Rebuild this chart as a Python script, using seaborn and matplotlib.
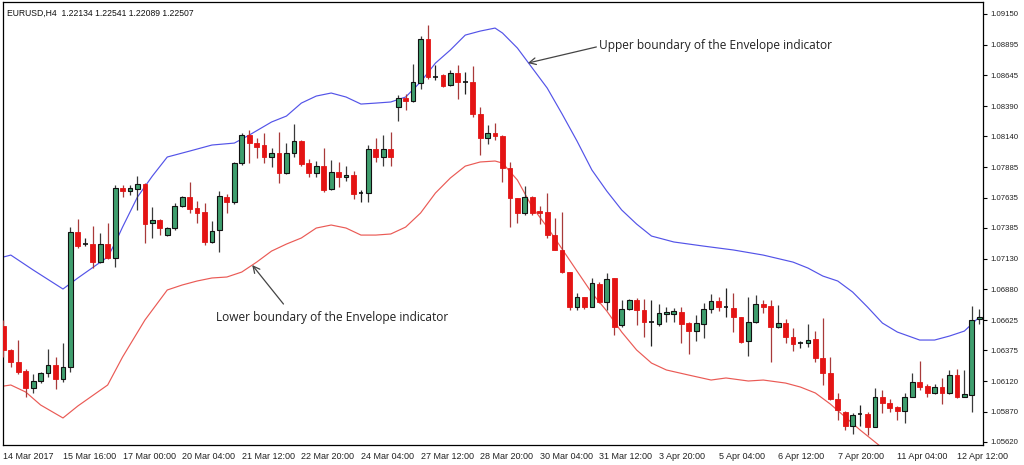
import numpy as np
import pandas as pd
import matplotlib
matplotlib.use("Agg")
import matplotlib.pyplot as plt
import seaborn as sns

# ---------------- data ----------------
opens = [1.06576, 1.06378, 1.06279, 1.06204, 1.06064, 1.06122, 1.06188, 1.06254, 1.06138, 1.06237,
         1.07351, 1.07252, 1.07252, 1.07103, 1.07252, 1.07136, 1.07714, 1.07689, 1.07706, 1.07747,
         1.07425, 1.07450, 1.07326, 1.07384, 1.07566, 1.07640, 1.07549, 1.07516, 1.07269, 1.07368,
         1.07640, 1.07599, 1.07920, 1.08151, 1.08085, 1.08069, 1.07970, 1.08003, 1.07838, 1.08003,
         1.08102, 1.07920, 1.07838, 1.07895, 1.07706, 1.07846, 1.07805, 1.07821, 1.07673, 1.07673,
         1.08036, 1.07970, 1.08036, 1.08382, 1.08457, 1.08432, 1.08580, 1.08943, 1.08630, 1.08646,
         1.08564, 1.08663, 1.08589, 1.08589, 1.08325, 1.08127, 1.08168, 1.08143, 1.07879, 1.07632,
         1.07508, 1.07640, 1.07524, 1.07516, 1.07326, 1.07203, 1.07021, 1.06732, 1.06815, 1.06732,
         1.06922, 1.06774, 1.06972, 1.06584, 1.06716, 1.06790, 1.06708, 1.06609, 1.06592, 1.06675,
         1.06675, 1.06691, 1.06600, 1.06534, 1.06592, 1.06716, 1.06782, 1.06732, 1.06724, 1.06650,
         1.06452, 1.06609, 1.06757, 1.06741, 1.06567, 1.06600, 1.06485, 1.06435, 1.06435, 1.06468,
         1.06312, 1.06188, 1.05973, 1.05866, 1.05750, 1.05850, 1.05850, 1.05742, 1.05990, 1.05940,
         1.05907, 1.05874, 1.05990, 1.06114, 1.06080, 1.06023, 1.06072, 1.06023, 1.06171, 1.05990,
         1.06006, 1.06633]
highs = [1.06625, 1.06386, 1.06460, 1.06221, 1.06180, 1.06196, 1.06386, 1.06320, 1.06435, 1.07392,
         1.07458, 1.07302, 1.07400, 1.07343, 1.07425, 1.07739, 1.07739, 1.07739, 1.07813, 1.07755,
         1.07557, 1.07458, 1.07392, 1.07590, 1.07648, 1.07764, 1.07607, 1.07590, 1.07442, 1.07689,
         1.07665, 1.07929, 1.08168, 1.08193, 1.08127, 1.08168, 1.08044, 1.08176, 1.08085, 1.08242,
         1.08110, 1.07953, 1.07937, 1.08044, 1.07945, 1.07929, 1.07895, 1.07854, 1.07698, 1.08069,
         1.08127, 1.08151, 1.08176, 1.08481, 1.08490, 1.08737, 1.08968, 1.09059, 1.08729, 1.08655,
         1.08688, 1.08729, 1.08671, 1.08720, 1.08382, 1.08234, 1.08250, 1.08151, 1.07929, 1.07632,
         1.07731, 1.07648, 1.07566, 1.07673, 1.07467, 1.07516, 1.07021, 1.06848, 1.06815, 1.06972,
         1.06939, 1.07013, 1.06972, 1.06790, 1.06798, 1.06807, 1.06798, 1.06790, 1.06757, 1.06732,
         1.06724, 1.06732, 1.06609, 1.06666, 1.06765, 1.06840, 1.06815, 1.06889, 1.06848, 1.06650,
         1.06815, 1.06831, 1.06790, 1.06790, 1.06749, 1.06633, 1.06559, 1.06452, 1.06592, 1.06534,
         1.06642, 1.06320, 1.06023, 1.05874, 1.05858, 1.05924, 1.05866, 1.06064, 1.06048, 1.05973,
         1.05916, 1.06023, 1.06188, 1.06287, 1.06097, 1.06097, 1.06147, 1.06213, 1.06221, 1.06213,
         1.06741, 1.06716]
lows = [1.06320, 1.06237, 1.06180, 1.05990, 1.06023, 1.06105, 1.06155, 1.06056, 1.06114, 1.06196,
        1.07219, 1.07235, 1.07054, 1.07095, 1.07128, 1.07062, 1.07640, 1.07656, 1.07533, 1.07260,
        1.07302, 1.07326, 1.07318, 1.07368, 1.07557, 1.07508, 1.07425, 1.07244, 1.07260, 1.07186,
        1.07508, 1.07582, 1.07904, 1.07920, 1.07962, 1.07920, 1.07887, 1.07755, 1.07829, 1.07970,
        1.07895, 1.07805, 1.07805, 1.07681, 1.07698, 1.07722, 1.07772, 1.07623, 1.07599, 1.07599,
        1.07929, 1.07895, 1.07895, 1.08267, 1.08358, 1.08424, 1.08531, 1.08613, 1.08605, 1.08547,
        1.08556, 1.08448, 1.08490, 1.08300, 1.07986, 1.08077, 1.08110, 1.07764, 1.07392, 1.07425,
        1.07491, 1.07491, 1.07417, 1.07302, 1.07203, 1.07013, 1.06708, 1.06708, 1.06716, 1.06732,
        1.06765, 1.06708, 1.06501, 1.06567, 1.06708, 1.06584, 1.06485, 1.06411, 1.06576, 1.06609,
        1.06609, 1.06435, 1.06345, 1.06452, 1.06477, 1.06683, 1.06699, 1.06650, 1.06526, 1.06435,
        1.06328, 1.06600, 1.06683, 1.06279, 1.06559, 1.06435, 1.06369, 1.06394, 1.06402, 1.06279,
        1.06089, 1.05965, 1.05800, 1.05718, 1.05685, 1.05750, 1.05676, 1.05742, 1.05858, 1.05866,
        1.05800, 1.05775, 1.05990, 1.06048, 1.05990, 1.06015, 1.05932, 1.06015, 1.05982, 1.05990,
        1.05866, 1.06592]
closes = [1.06378, 1.06279, 1.06196, 1.06064, 1.06122, 1.06188, 1.06254, 1.06138, 1.06237, 1.07351,
          1.07235, 1.07252, 1.07103, 1.07252, 1.07136, 1.07714, 1.07689, 1.07714, 1.07747, 1.07417,
          1.07450, 1.07384, 1.07384, 1.07566, 1.07640, 1.07541, 1.07508, 1.07269, 1.07359, 1.07648,
          1.07599, 1.07920, 1.08151, 1.08085, 1.08052, 1.07970, 1.08003, 1.07838, 1.08003, 1.08102,
          1.07912, 1.07838, 1.07895, 1.07698, 1.07846, 1.07805, 1.07821, 1.07665, 1.07673, 1.08036,
          1.07970, 1.08036, 1.07970, 1.08457, 1.08432, 1.08589, 1.08943, 1.08630, 1.08630, 1.08556,
          1.08663, 1.08589, 1.08589, 1.08325, 1.08127, 1.08168, 1.08143, 1.07879, 1.07632, 1.07508,
          1.07640, 1.07508, 1.07508, 1.07326, 1.07203, 1.07021, 1.06732, 1.06815, 1.06732, 1.06930,
          1.06774, 1.06963, 1.06567, 1.06716, 1.06790, 1.06708, 1.06609, 1.06609, 1.06683, 1.06691,
          1.06699, 1.06592, 1.06534, 1.06600, 1.06716, 1.06782, 1.06732, 1.06732, 1.06650, 1.06444,
          1.06609, 1.06757, 1.06732, 1.06567, 1.06600, 1.06485, 1.06427, 1.06435, 1.06460, 1.06312,
          1.06188, 1.05973, 1.05883, 1.05750, 1.05841, 1.05850, 1.05742, 1.05990, 1.05940, 1.05899,
          1.05874, 1.05990, 1.06114, 1.06072, 1.06023, 1.06072, 1.06023, 1.06171, 1.05990, 1.06015,
          1.06625, 1.06650]

upper_bars = [0, 1, 4, 8, 10, 14, 15, 16, 18, 20, 22, 25, 28, 31, 33, 36, 38, 40, 42, 44, 46, 48,
              50, 52, 54, 56, 58, 60, 62, 64, 66, 67, 69, 71, 73, 75, 77, 79, 81, 83, 85, 87, 90,
              94, 98, 102, 106, 108, 110, 112, 114, 116, 118, 120, 123, 125, 127, 129, 130, 131]
upper_vals = [1.07145, 1.07161, 1.07038, 1.06881, 1.06972, 1.07145, 1.07260, 1.07392, 1.07640,
              1.07813, 1.07970, 1.08019, 1.08069, 1.08085, 1.08151, 1.08259, 1.08308, 1.08415,
              1.08473, 1.08498, 1.08465, 1.08407, 1.08415, 1.08424, 1.08465, 1.08589, 1.08745,
              1.08853, 1.08976, 1.09009, 1.09034, 1.08993, 1.08869, 1.08704, 1.08539, 1.08325,
              1.08102, 1.07863, 1.07689, 1.07533, 1.07417, 1.07318, 1.07269, 1.07235, 1.07203,
              1.07161, 1.07103, 1.07054, 1.06988, 1.06947, 1.06856, 1.06732, 1.06600, 1.06526,
              1.06460, 1.06460, 1.06493, 1.06534, 1.06592, 1.06650]
lower_bars = [0, 1, 3, 5, 8, 10, 14, 16, 19, 22, 24, 26, 28, 30, 32, 34, 36, 38, 40, 42, 44, 46,
              48, 50, 52, 54, 56, 58, 60, 62, 64, 66, 67, 69, 71, 73, 75, 77, 79, 81, 83, 85, 87,
              89, 92, 95, 97, 100, 102, 105, 107, 109, 111, 113, 115, 117, 118]
lower_vals = [1.06080, 1.06089, 1.06031, 1.05924, 1.05817, 1.05916, 1.06089, 1.06320, 1.06625,
              1.06873, 1.06914, 1.06947, 1.06972, 1.06980, 1.07021, 1.07103, 1.07194, 1.07252,
              1.07302, 1.07384, 1.07409, 1.07384, 1.07326, 1.07326, 1.07335, 1.07392, 1.07508,
              1.07673, 1.07797, 1.07895, 1.07929, 1.07937, 1.07920, 1.07780, 1.07557, 1.07392,
              1.07211, 1.07029, 1.06848, 1.06699, 1.06526, 1.06378, 1.06270, 1.06213, 1.06171,
              1.06130, 1.06147, 1.06122, 1.06130, 1.06105, 1.06072, 1.06023, 1.05932, 1.05825,
              1.05718, 1.05619, 1.05569]

xtick_bars = [0, 8, 16, 24, 32, 40, 48, 56, 64, 72, 80, 88, 96, 104, 112, 120, 128]
xtick_labels = ["14 Mar 2017", "15 Mar 16:00", "17 Mar 00:00", "20 Mar 04:00", "21 Mar 12:00",
                "22 Mar 20:00", "24 Mar 04:00", "27 Mar 12:00", "28 Mar 20:00", "30 Mar 04:00",
                "31 Mar 12:00", "3 Apr 20:00", "5 Apr 04:00", "6 Apr 12:00", "7 Apr 20:00",
                "11 Apr 04:00", "12 Apr 12:00"]
ytick_vals = [1.09150, 1.08895, 1.08645, 1.08390, 1.08140, 1.07885, 1.07635, 1.07385, 1.07130,
              1.06880, 1.06625, 1.06375, 1.06120, 1.05870, 1.05620]

header_text = "EURUSD,H4  1.22134 1.22541 1.22089 1.22507"
upper_label = "Upper boundary of the Envelope indicator"
lower_label = "Lower boundary of the Envelope indicator"

# ---------------- style ----------------
sns.set_theme(style="white")
plt.rcParams['font.family'] = ['Liberation Sans', 'DejaVu Sans']

fig = plt.figure(figsize=(10.24, 4.65), dpi=100)
ax = fig.add_axes([3 / 1024, 20 / 465, 980 / 1024, 443 / 465])

n = len(opens)
xs = np.arange(n)
df = pd.DataFrame({"bar": xs, "open": opens, "high": highs, "low": lows, "close": closes})

# envelope lines via seaborn
up_df = pd.DataFrame({"bar": upper_bars, "value": upper_vals})
lo_df = pd.DataFrame({"bar": lower_bars, "value": lower_vals})
sns.lineplot(data=up_df, x="bar", y="value", ax=ax, color="#5353e8", lw=0.85, zorder=2)
sns.lineplot(data=lo_df, x="bar", y="value", ax=ax, color="#ea5a55", lw=0.85, zorder=2)

# candles
bw = 0.64
for _, r in df.iterrows():
    o, h, l, c, x = r["open"], r["high"], r["low"], r["close"], r["bar"]
    if abs(c - o) < 1e-6:
        ax.vlines(x, l, h, color="#222222", lw=0.9, zorder=3)
        ax.hlines(o, x - bw / 2, x + bw / 2, color="#111111", lw=1.2, zorder=4)
    elif c > o:
        ax.vlines(x, l, h, color="#3a3a3a", lw=0.9, zorder=3)
        ax.bar(x, c - o, bottom=o, width=bw, color="#3f9e6e", edgecolor="#111111",
               linewidth=0.8, zorder=4)
    else:
        ax.vlines(x, l, h, color="#a83a3a", lw=0.9, zorder=3)
        ax.bar(x, o - c, bottom=c, width=bw, color="#e41414", edgecolor="#e41414",
               linewidth=0.6, zorder=4)

ax.set_xlim(-0.05, 131.5)
ax.set_ylim(1.05594, 1.09249)

for s in ax.spines.values():
    s.set_color("black")
    s.set_linewidth(0.9)

ax.yaxis.tick_right()
ax.set_yticks(ytick_vals)
ax.set_yticklabels([f"{v:.5f}" for v in ytick_vals], fontsize=5.6, color="#222222")
ax.set_xticks(xtick_bars)
ax.set_xticklabels(xtick_labels, fontsize=6.5, color="#222222", ha="left")
ax.tick_params(axis="both", which="both", direction="out", length=3, width=0.8,
               color="black", pad=2)
ax.set_xlabel("")
ax.set_ylabel("")
ax.grid(False)

# header text
ax.text(0.004, 0.975, header_text, transform=ax.transAxes, fontsize=6.2,
        color="#111111", ha="left", va="center")

# annotations
ax.annotate("", xy=(70.4, 1.08745), xytext=(79.6, 1.08878),
            arrowprops=dict(arrowstyle="->", color="#444444", lw=0.9,
                            shrinkA=0, shrinkB=0, mutation_scale=12))
ax.text(79.9, 1.08894, upper_label, fontsize=8.55, color="#222222", ha="left",
        va="center", family=["Open Sans", "DejaVu Sans"])
ax.annotate("", xy=(33.4, 1.07079), xytext=(37.6, 1.06757),
            arrowprops=dict(arrowstyle="->", color="#444444", lw=0.9,
                            shrinkA=0, shrinkB=0, mutation_scale=12))
ax.text(28.6, 1.06642, lower_label, fontsize=8.55, color="#222222", ha="left",
        va="center", family=["Open Sans", "DejaVu Sans"])

fig.savefig("out.png", dpi=100, facecolor="white")
